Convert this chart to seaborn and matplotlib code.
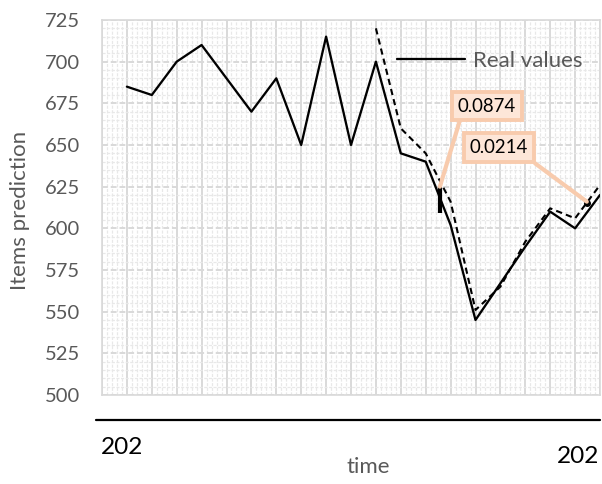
import numpy as np
import pandas as pd
import matplotlib
matplotlib.use("Agg")
import matplotlib.pyplot as plt
from matplotlib.ticker import MultipleLocator
import seaborn as sns

# Series values (time index 1..20)
time_idx = list(range(1, 21))
real_values = [685, 680, 700, 710, 690, 670, 690, 650, 715, 650,
               700, 645, 640, 602, 545, 567, 589, 610, 600, 620]
pred_idx = list(range(11, 21))
pred_values = [720, 660, 645, 616, 551, 565, 592, 612, 606, 626]

# Error callouts
err_x = [13.57, 19.47]
err_y = [625, 616]
err_labels = ["0.0874", "0.0214"]
err_label_pos = [(15.45, 673.4), (15.94, 648.5)]

# Axis text
x_tick_labels = ["202", "202"]
y_ticks = list(range(500, 726, 25))

sns.set_style("white")
plt.rcParams["font.family"] = ["Lato", "DejaVu Sans"]

real_df = pd.DataFrame({"time": time_idx, "value": real_values})
pred_df = pd.DataFrame({"time": pred_idx, "value": pred_values})

fig = plt.figure(figsize=(6.02, 4.84), dpi=100)
ax = fig.add_axes([102 / 602, 1 - 395 / 484, 498 / 602, 375 / 484])

grey = "#595959"

# grid
ax.set_xlim(0, 20)
ax.set_ylim(500, 725)
ax.xaxis.set_major_locator(MultipleLocator(1))
ax.xaxis.set_minor_locator(MultipleLocator(0.2))
ax.yaxis.set_major_locator(MultipleLocator(25))
ax.yaxis.set_minor_locator(MultipleLocator(5))
ax.grid(which="minor", color="#e8e8e8", lw=0.9, ls=(0, (2.5, 1.2)), zorder=0)
ax.grid(which="major", axis="x", color="#d9d9d9", lw=1.4, ls="-", zorder=0)
ax.grid(which="major", axis="y", color="#d9d9d9", lw=1.4, ls=(0, (3, 1.5)), zorder=0)
ax.set_axisbelow(True)

sns.lineplot(data=real_df, x="time", y="value", ax=ax, color="black",
             lw=1.65, label="Real values", zorder=3)
sns.lineplot(data=pred_df, x="time", y="value", ax=ax, color="black",
             lw=1.5, ls=(0, (3, 2)), zorder=3, legend=False)

# error marks
ax.vlines(err_x[0], err_y[0] - 16, err_y[0], color="black", lw=3, zorder=4)
ax.plot([err_x[1]], [err_y[1] - 1], "o", color="black", ms=4, zorder=4)

rel = [(0.07, 0.0), (0.95, 0.0)]
for (xp, yp), lab, ex, ey, rp in zip(err_label_pos, err_labels, err_x, err_y, rel):
    ax.annotate(lab, xy=(ex, ey), xytext=(xp, yp), textcoords="data",
                ha="center", va="center", fontsize=13.4, color="black",
                bbox=dict(boxstyle="square,pad=0.32", fc="#fde6d8", ec="#f8cbad", lw=2.8),
                arrowprops=dict(arrowstyle="-", color="#f8cbad", lw=3,
                                relpos=rp, shrinkA=0, shrinkB=0),
                zorder=5)

# axes styling
for s in ax.spines.values():
    s.set_color("#d9d9d9")
    s.set_linewidth(1.2)
ax.set_yticks(y_ticks)
ax.tick_params(axis="y", which="both", length=0, pad=16, labelsize=14.5, labelcolor=grey)
ax.tick_params(axis="x", which="both", length=0, labelbottom=False)

ax.set_ylabel("Items prediction", fontsize=16, color=grey)
ax.yaxis.set_label_coords(-0.1647, 0.493)
ax.yaxis.label.set_va("center")
ax.set_xlabel("time", fontsize=16, color=grey)
ax.xaxis.set_label_coords(0.534, -0.192)
ax.xaxis.label.set_va("center")

# date axis line and labels below plot area
ax.plot([-0.012, 1.0], [-0.0667, -0.0667], transform=ax.transAxes,
        color="black", lw=1.6, clip_on=False)
ax.text(0.040, -0.1387, x_tick_labels[0], transform=ax.transAxes,
        ha="center", va="center", fontsize=17.6, color="black")
ax.text(0.956, -0.163, x_tick_labels[1], transform=ax.transAxes,
        ha="center", va="center", fontsize=17.6, color="black")

leg = ax.legend(loc="center left", bbox_to_anchor=((397 - 102) / 498, (395 - 61) / 375),
                frameon=False, fontsize=16, handlelength=3.06, handletextpad=0.36,
                borderaxespad=0, borderpad=0)
for t in leg.get_texts():
    t.set_color(grey)

fig.savefig("out.png", dpi=100)
